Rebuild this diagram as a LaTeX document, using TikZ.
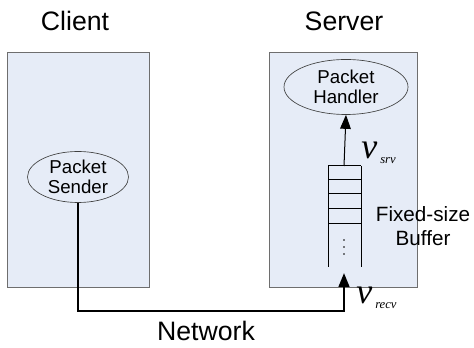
\documentclass[tikz,border=0pt]{standalone}
\usepackage{fontspec}
\setmainfont{Liberation Sans}
\newfontfamily\vfont{Liberation Serif}
\usetikzlibrary{arrows.meta,shapes.geometric}
\definecolor{boxfill}{HTML}{E6ECF7}
\definecolor{boxline}{HTML}{6E6E6E}
\begin{document}
\begin{tikzpicture}[x=0.75pt,y=-0.75pt,
  hostbox/.style={draw=boxline, fill=boxfill, line width=0.7pt, anchor=north west, minimum height=176.25pt, inner sep=0pt},
  proc/.style={ellipse, draw=black!75, line width=0.5pt, inner sep=0pt, align=center, font=\fontsize{14}{15}\selectfont},
  title/.style={font=\fontsize{20}{24}\selectfont},
  lbl/.style={font=\fontsize{15.5}{18}\selectfont, align=center},
  buf/.style={line width=0.75pt, black},
  rate/.style={font=\vfont\itshape\fontsize{27}{27}\selectfont, inner sep=0pt, anchor=base west},
  sub/.style={font=\vfont\itshape\fontsize{9.5}{9.5}\selectfont, inner sep=0pt, anchor=base west},
  tri/.style={-{Triangle[length=10.5pt,width=8pt]}}
]
\useasboundingbox (0,0) rectangle (474,348);
\node[hostbox, minimum width=106.5pt] (client) at (7,52) {};
\node[hostbox, minimum width=111pt] (server) at (269,52) {};
\node[title] (ctitle) at (75,21) {Client};
\node[title] (stitle) at (344,21) {Server};
\node[proc, minimum width=75.75pt, minimum height=38.25pt] (sender) at (78,177) {Packet\\Sender};
\node[proc, minimum width=93pt, minimum height=41.25pt] (handler) at (346,87) {Packet\\Handler};
% buffer
\coordinate (btop) at (344,166);
\coordinate (bin) at (344,273);
\draw[buf] (328,166) -- (328,267) (361,166) -- (361,267);
\foreach \y in {166,180,194,209,224} \draw[buf] (328,\y) -- (361,\y);
\foreach \y in {240,247,254} \fill (344,\y) circle[radius=0.7pt];
\node[lbl] (buflbl) at (423,226) {Fixed-size\\Buffer};
% arrows
\draw[line width=0.75pt, tri] (btop) -- (handler.south);
\coordinate (c1) at (78,311);
\coordinate (c2) at (344,311);
\draw[line width=1.8pt, tri] (sender.south) -- (c1) -- (c2) -- (bin);
\node[title] (net) at (206,331) {Network};
% rates
\node[rate] (vs) at (361,159) {v};
\node[sub] (vss) at (380,164) {srv};
\node[rate] (vr) at (356,304) {v};
\node[sub] (vrs) at (375,309) {recv};
\end{tikzpicture}
\end{document}
